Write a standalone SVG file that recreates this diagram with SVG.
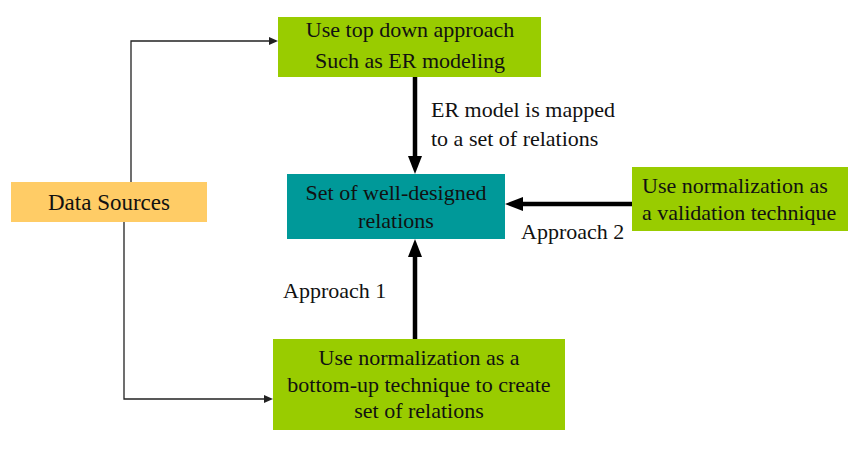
<svg xmlns="http://www.w3.org/2000/svg" width="868" height="449" viewBox="0 0 868 449">
  <defs>
    <style>
      .thin { fill: none; stroke: #222; stroke-width: 1.3; }
      .thick { fill: none; stroke: #000; stroke-width: 4.5; }
      .green { fill: #99CC00; }
    </style>
    <marker id="ah" viewBox="0 0 18 14" markerUnits="userSpaceOnUse" markerWidth="18" markerHeight="14" refX="10" refY="7" orient="auto">
      <path d="M0,0 L18,7 L0,14 z" fill="#000"/>
    </marker>
    <marker id="as" viewBox="0 0 9 8" markerUnits="userSpaceOnUse" markerWidth="9" markerHeight="8" refX="7" refY="4" orient="auto">
      <path d="M0,0 L9,4 L0,8 z" fill="#222"/>
    </marker>
  </defs>
  <rect width="868" height="449" fill="#fff"/>

  <g id="connectors">
    <path class="thin" d="M131,182 V41 H276" marker-end="url(#as)"/>
    <path class="thin" d="M124,222 V399 H271" marker-end="url(#as)"/>
    <path class="thick" d="M415,77 V166" marker-end="url(#ah)"/>
    <path class="thick" d="M415,339 V247" marker-end="url(#ah)"/>
    <path class="thick" d="M632,204 H513" marker-end="url(#ah)"/>
    <g font-family="Liberation Serif" font-size="22" fill="#111">
      <text x="431" y="117">ER model is mapped</text>
      <text x="431" y="146">to a set of relations</text>
      <text x="521" y="239">Approach 2</text>
      <text x="283" y="298">Approach 1</text>
    </g>
  </g>

  <g id="data-sources">
    <rect x="11" y="182" width="196" height="40" fill="#FFCC66"/>
    <text font-family="Liberation Serif" font-size="23" fill="#111" text-anchor="middle" x="109" y="210">Data Sources</text>
  </g>

  <g id="top-down">
    <rect class="green" x="278" y="17" width="263" height="60"/>
    <g font-family="Liberation Serif" font-size="22" fill="#111" text-anchor="middle">
      <text x="410" y="37">Use top down approach</text>
      <text x="410" y="68">Such as ER modeling</text>
    </g>
  </g>

  <g id="relations">
    <rect x="287" y="174" width="218" height="65" fill="#009999"/>
    <g font-family="Liberation Serif" font-size="22" fill="#111" text-anchor="middle">
      <text x="396" y="200">Set of well-designed</text>
      <text x="396" y="228">relations</text>
    </g>
  </g>

  <g id="validation">
    <rect class="green" x="632" y="167" width="216" height="64"/>
    <g font-family="Liberation Serif" font-size="22" fill="#111">
      <text x="642" y="193">Use normalization as</text>
      <text x="642" y="220">a validation technique</text>
    </g>
  </g>

  <g id="bottom-up">
    <rect class="green" x="273" y="339" width="292" height="91"/>
    <g font-family="Liberation Serif" font-size="22" fill="#111" text-anchor="middle">
      <text x="419" y="365">Use normalization as a</text>
      <text x="419" y="392">bottom-up technique to create</text>
      <text x="419" y="418">set of relations</text>
    </g>
  </g>
</svg>
